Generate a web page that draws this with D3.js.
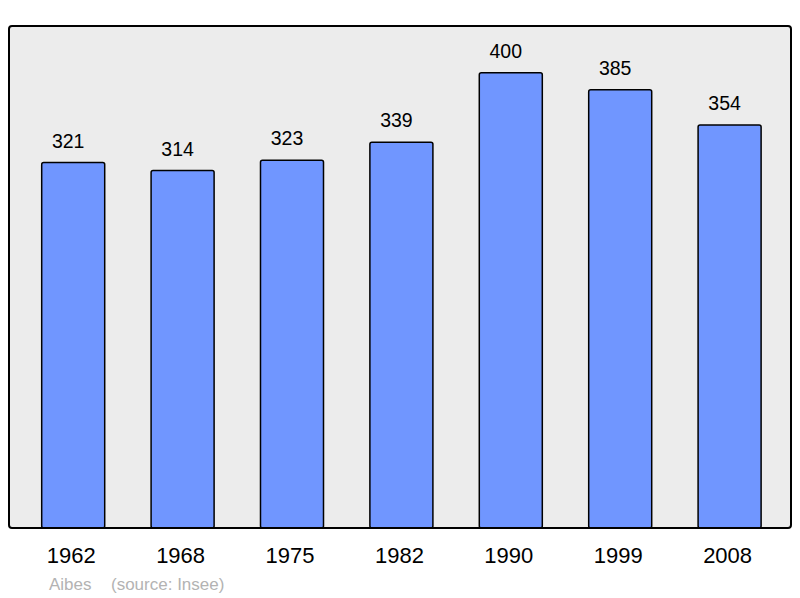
<!DOCTYPE html>
<html>
<head>
<meta charset="utf-8">
<script src="https://cdn.jsdelivr.net/npm/d3@7"></script>
<style>
  body { margin: 0; background: #fff; }
  svg { display: block; font-family: "Liberation Sans", Arial, sans-serif; }
</style>
</head>
<body>
<svg id="chart" width="800" height="598"></svg>
<script>
const years = ['1962', '1968', '1975', '1982', '1990', '1999', '2008'];
const population = [321, 314, 323, 339, 400, 385, 354];
const townName = 'Aibes';
const sourceText = '(source: Insee)';

const svg = d3.select('#chart');

const frameLeft = 9;
const frameTop = 26;
const frameRight = 791;
const frameBottom = 528;

// plot background
svg.append('rect')
    .attr('x', frameLeft)
    .attr('y', frameTop)
    .attr('width', frameRight - frameLeft)
    .attr('height', frameBottom - frameTop)
    .attr('rx', 3)
    .attr('fill', '#ececec')
    .attr('stroke', 'none');

const x = d3.scaleBand()
    .domain(years)
    .range([18.5, 784.3])
    .paddingInner(0.424)
    .paddingOuter(0.212);

const y = d3.scaleLinear()
    .domain([0, 400])
    .range([frameBottom, 72.7]);

const data = years.map((yr, i) => ({ year: yr, value: population[i] }));

svg.selectAll('rect.bar')
    .data(data)
    .enter().append('rect')
    .attr('class', 'bar')
    .attr('x', d => x(d.year))
    .attr('y', d => y(d.value))
    .attr('width', x.bandwidth())
    .attr('height', d => y(0) - y(d.value))
    .attr('rx', 2)
    .attr('fill', '#7096ff')
    .attr('stroke', '#000')
    .attr('stroke-width', 1.5);

// value labels (sit a little left of the bar centre, like the original)
svg.selectAll('text.value')
    .data(data)
    .enter().append('text')
    .attr('class', 'value')
    .attr('x', d => x(d.year) + x.bandwidth() / 2 - 5)
    .attr('y', d => y(d.value) - 15)
    .attr('text-anchor', 'middle')
    .attr('font-size', 19.5)
    .attr('fill', '#000')
    .text(d => d.value);

// frame on top of bars
svg.append('rect')
    .attr('x', frameLeft)
    .attr('y', frameTop)
    .attr('width', frameRight - frameLeft)
    .attr('height', frameBottom - frameTop)
    .attr('rx', 3)
    .attr('fill', 'none')
    .attr('stroke', '#000')
    .attr('stroke-width', 2);

// x axis labels
const xAxis = d3.axisBottom(x).tickSize(0).tickPadding(0);
const axisG = svg.append('g')
    .attr('transform', `translate(0,${frameBottom})`)
    .call(xAxis);
axisG.select('.domain').remove();
axisG.selectAll('text')
    .attr('x', -2)
    .attr('y', 35)
    .attr('dy', 0)
    .attr('font-size', 22)
    .attr('font-family', '"Liberation Sans", Arial, sans-serif')
    .attr('fill', '#000');

// footer
svg.append('text')
    .attr('x', 49)
    .attr('y', 590)
    .attr('font-size', 17)
    .attr('fill', '#b3b3b3')
    .text(townName);
svg.append('text')
    .attr('x', 111)
    .attr('y', 590)
    .attr('font-size', 17)
    .attr('fill', '#b3b3b3')
    .text(sourceText);
</script>
</body>
</html>
